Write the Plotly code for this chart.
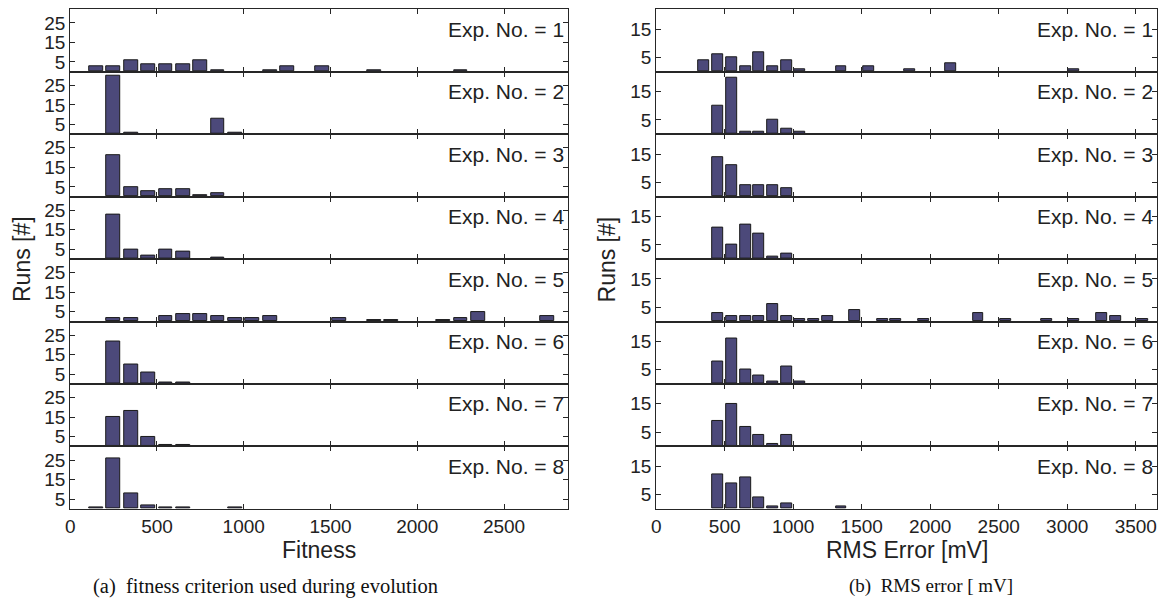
import plotly.graph_objects as go

# ---------------- data (bin centres and counts) ----------------
# (a) Fitness histograms, bin width 100
fit_x1 = [150, 250, 350, 450, 550, 650, 750, 850, 1150, 1250, 1450, 1750, 2250]
fit_y1 = [3, 3, 6, 4, 4, 4, 6, 1, 1, 3, 3, 1, 1]
fit_x2 = [250, 350, 850, 950]
fit_y2 = [30, 1, 8, 1]
fit_x3 = [250, 350, 450, 550, 650, 750, 850]
fit_y3 = [21, 5, 3, 4, 4, 1, 2]
fit_x4 = [250, 350, 450, 550, 650, 850]
fit_y4 = [23, 5, 2, 5, 4, 1]
fit_x5 = [250, 350, 550, 650, 750, 850, 950, 1050, 1150, 1550, 1750, 1850, 2150, 2250, 2350, 2750]
fit_y5 = [2, 2, 3, 4, 4, 3, 2, 2, 3, 2, 1, 1, 1, 2, 5, 3]
fit_x6 = [250, 350, 450, 550, 650]
fit_y6 = [22, 10, 6, 1, 1]
fit_x7 = [250, 350, 450, 550, 650]
fit_y7 = [15, 18, 5, 1, 1]
fit_x8 = [150, 250, 350, 450, 550, 650, 950]
fit_y8 = [1, 26, 8, 2, 1, 1, 1]

# (b) RMS error histograms [mV], bin width 100
rms_x1 = [350, 450, 550, 650, 750, 850, 950, 1050, 1350, 1550, 1850, 2150, 3050]
rms_y1 = [4, 6, 5, 2, 7, 2, 4, 1, 2, 2, 1, 3, 1]
rms_x2 = [450, 550, 650, 750, 850, 950, 1050]
rms_y2 = [10, 20, 1, 1, 5, 2, 1]
rms_x3 = [450, 550, 650, 750, 850, 950]
rms_y3 = [14, 11, 4, 4, 4, 3]
rms_x4 = [450, 550, 650, 750, 850, 950]
rms_y4 = [11, 5, 12, 9, 1, 2]
rms_x5 = [450, 550, 650, 750, 850, 950, 1050, 1150, 1250, 1450, 1650, 1750, 1950, 2350, 2550, 2850, 3050, 3250, 3350, 3550]
rms_y5 = [3, 2, 2, 2, 6, 2, 1, 1, 2, 4, 1, 1, 1, 3, 1, 1, 1, 3, 2, 1]
rms_x6 = [450, 550, 650, 750, 850, 950, 1050]
rms_y6 = [8, 16, 5, 3, 1, 6, 1]
rms_x7 = [450, 550, 650, 750, 850, 950]
rms_y7 = [9, 15, 7, 4, 1, 4]
rms_x8 = [450, 550, 650, 750, 850, 950, 1350]
rms_y8 = [12, 9, 11, 4, 1, 2, 1]

exp_labels = ["Exp. No. = 1", "Exp. No. = 2", "Exp. No. = 3", "Exp. No. = 4",
              "Exp. No. = 5", "Exp. No. = 6", "Exp. No. = 7", "Exp. No. = 8"]

fit_xticks = [0, 500, 1000, 1500, 2000, 2500]
rms_xticks = [0, 500, 1000, 1500, 2000, 2500, 3000, 3500]
fit_yticks = [5, 15, 25]
rms_yticks = [5, 15]

x_title_a = "Fitness"
x_title_b = "RMS Error [mV]"
y_title = "Runs [#]"
caption_a = "(a)  fitness criterion used during evolution"
caption_b = "(b)  RMS error [ mV]"

# ---------------- layout geometry ----------------
W, H = 1160, 605
BAR_COLOR = "rgb(76,73,122)"
LINE_COLOR = "#262626"
FONT = "Liberation Sans, Arial, sans-serif"
SERIF = "Liberation Serif, Times New Roman, serif"

col_px = [(65.5, 565.7), (654.0, 1157.0)]
top_px, panel_h = 9.3, 62.55
x_ranges = [[0, 2870], [0, 3655]]
y_ranges = [[0, 32], [0, 22]]

fit_xs = [fit_x1, fit_x2, fit_x3, fit_x4, fit_x5, fit_x6, fit_x7, fit_x8]
fit_ys = [fit_y1, fit_y2, fit_y3, fit_y4, fit_y5, fit_y6, fit_y7, fit_y8]
rms_xs = [rms_x1, rms_x2, rms_x3, rms_x4, rms_x5, rms_x6, rms_x7, rms_x8]
rms_ys = [rms_y1, rms_y2, rms_y3, rms_y4, rms_y5, rms_y6, rms_y7, rms_y8]

fig = go.Figure()
annotations = []

for c in range(2):
    xs_all = fit_xs if c == 0 else rms_xs
    ys_all = fit_ys if c == 0 else rms_ys
    xticks = fit_xticks if c == 0 else rms_xticks
    yticks = fit_yticks if c == 0 else rms_yticks
    x0p, x1p = col_px[c]
    for r in range(8):
        n = r * 2 + c + 1
        sfx = "" if n == 1 else str(n)
        ytop = 1 - (top_px + r * panel_h) / H
        ybot = 1 - (top_px + (r + 1) * panel_h) / H
        fig.add_trace(go.Bar(
            x=xs_all[r], y=ys_all[r], width=80,
            marker=dict(color=BAR_COLOR, line=dict(color="#1a1a1a", width=1)),
            xaxis="x" + sfx, yaxis="y" + sfx, showlegend=False,
        ))
        fig.layout["xaxis" + sfx] = dict(
            domain=[x0p / W, x1p / W], range=x_ranges[c], anchor="y" + sfx,
            tickmode="array", tickvals=xticks, ticks="inside", ticklen=5,
            tickcolor=LINE_COLOR, tickwidth=1,
            showline=True, linecolor=LINE_COLOR, linewidth=1, mirror="ticks",
            showgrid=False, zeroline=False, showticklabels=(r == 7),
            tickfont=dict(family=FONT, size=19, color="#222"),
        )
        fig.layout["yaxis" + sfx] = dict(
            domain=[ybot, ytop], range=y_ranges[c], anchor="x" + sfx,
            tickmode="array", tickvals=yticks, ticks="inside", ticklen=5,
            tickcolor=LINE_COLOR, tickwidth=1,
            showline=True, linecolor=LINE_COLOR, linewidth=1, mirror="ticks",
            showgrid=False, zeroline=False,
            tickfont=dict(family=FONT, size=19, color="#222"),
        )
        annotations.append(dict(
            text=exp_labels[r], xref="paper", yref="paper",
            x=x1p / W, y=ytop - 20 / H, xanchor="right", yanchor="middle",
            xshift=-2, showarrow=False,
            font=dict(family=FONT, size=21, color="#222"),
        ))

# axis titles and captions
bot_y = 1 - (top_px + 8 * panel_h) / H
mid_y = (1 - top_px / H + bot_y) / 2
annotations += [
    dict(text=x_title_a, xref="paper", yref="paper", x=(col_px[0][0] + col_px[0][1]) / 2 / W,
         y=1 - 551 / H, xanchor="center", yanchor="middle", showarrow=False,
         font=dict(family=FONT, size=23, color="#222")),
    dict(text=x_title_b, xref="paper", yref="paper", x=(col_px[1][0] + col_px[1][1]) / 2 / W,
         y=1 - 551 / H, xanchor="center", yanchor="middle", showarrow=False,
         font=dict(family=FONT, size=23, color="#222")),
    dict(text=y_title, xref="paper", yref="paper", x=17 / W, y=mid_y,
         xanchor="center", yanchor="middle", textangle=-90, showarrow=False,
         font=dict(family=FONT, size=23, color="#222")),
    dict(text=y_title, xref="paper", yref="paper", x=605 / W, y=mid_y,
         xanchor="center", yanchor="middle", textangle=-90, showarrow=False,
         font=dict(family=FONT, size=23, color="#222")),
    dict(text=caption_a, xref="paper", yref="paper", x=262 / W, y=1 - 587 / H,
         xanchor="center", yanchor="middle", showarrow=False,
         font=dict(family=SERIF, size=20.5, color="#111")),
    dict(text=caption_b, xref="paper", yref="paper", x=930 / W, y=1 - 587 / H,
         xanchor="center", yanchor="middle", showarrow=False,
         font=dict(family=SERIF, size=19, color="#111")),
]

fig.update_layout(
    width=W, height=H, margin=dict(l=0, r=0, t=0, b=0),
    paper_bgcolor="white", plot_bgcolor="white",
    bargap=0, annotations=annotations, showlegend=False,
)

fig.write_html(
    "out.html",
    config={"displayModeBar": False},
    post_script="document.body.style.margin='0px';document.body.style.overflow='hidden';",
)
